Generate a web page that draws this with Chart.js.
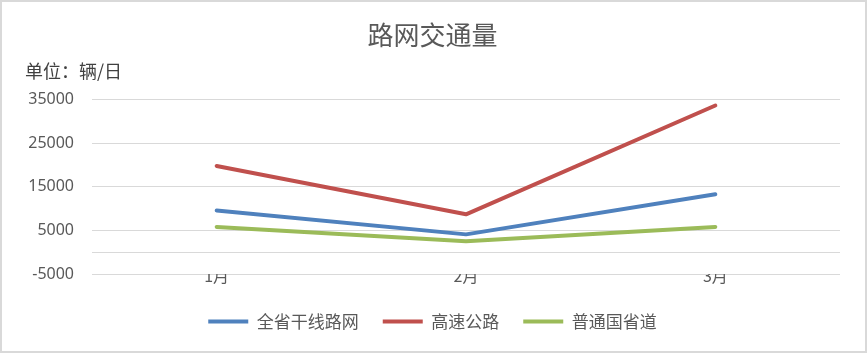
<!DOCTYPE html>
<html>
<head>
<meta charset="utf-8">
<script src="https://cdn.jsdelivr.net/npm/chart.js@4/dist/chart.umd.min.js"></script>
<style>
  html, body { margin: 0; padding: 0; background: #fff; }
  #wrap { width: 867px; height: 353px; position: relative; }
</style>
</head>
<body>
<div id="wrap"><canvas id="traffic"></canvas></div>
<script>
const months = ['1月', '2月', '3月'];
const trunkNetwork = [9600, 4100, 13300];
const expressway = [19800, 8700, 33700];
const nationalProvincial = [5800, 2500, 5800];
const yTicks = [-5000, 5000, 15000, 25000, 35000];

const cjk = '"Noto Sans CJK SC", "Noto Sans", sans-serif';
const gridColor = '#d9d9d9';

// outer frame like the spreadsheet chart border
const frame = {
    id: 'frame',
    afterDraw(chart) {
        const c = chart.ctx;
        c.save();
        c.strokeStyle = gridColor;
        c.lineWidth = 2;
        c.strokeRect(1, 1, chart.width - 2, chart.height - 2);
        c.restore();
    }
};

const ctx = document.getElementById('traffic').getContext('2d');

new Chart(ctx, {
    type: 'line',
    data: {
        labels: months,
        datasets: [
            { label: '全省干线路网', data: trunkNetwork, borderColor: '#4f81bd', backgroundColor: '#4f81bd', borderWidth: 4 },
            { label: '高速公路', data: expressway, borderColor: '#c0504d', backgroundColor: '#c0504d', borderWidth: 4 },
            { label: '普通国省道', data: nationalProvincial, borderColor: '#9bbb59', backgroundColor: '#9bbb59', borderWidth: 4 }
        ]
    },
    options: {
        responsive: true,
        maintainAspectRatio: false,
        animation: false,
        layout: { padding: { left: 25, right: 27, bottom: 13 } },
        elements: {
            line: { tension: 0, borderCapStyle: 'round', borderJoinStyle: 'round' },
            point: { radius: 0, hoverRadius: 0 }
        },
        plugins: {
            title: {
                display: true,
                text: '路网交通量',
                color: '#595959',
                font: { family: cjk, size: 26, weight: 'normal' },
                padding: { top: 20, bottom: 0 }
            },
            subtitle: {
                display: true,
                text: '单位：辆/日',
                align: 'start',
                color: '#404040',
                font: { family: cjk, size: 18, weight: 'normal' },
                padding: { top: 9, bottom: 18 }
            },
            legend: {
                position: 'bottom',
                labels: {
                    usePointStyle: true,
                    pointStyle: 'line',
                    pointStyleWidth: 40,
                    color: '#595959',
                    padding: 24,
                    font: { family: cjk, size: 17 }
                }
            },
            tooltip: { enabled: false }
        },
        scales: {
            x: {
                offset: true,
                grid: { display: false, drawTicks: false },
                border: { display: false },
                ticks: {
                    color: '#595959',
                    padding: -8,
                    font: { family: cjk, size: 16 }
                },
                afterFit(scale) { scale.height = 15; }
            },
            y: {
                min: yTicks[0],
                max: yTicks[yTicks.length - 1],
                grid: { color: gridColor, lineWidth: 1, drawTicks: false },
                border: { display: false },
                ticks: {
                    color: '#595959',
                    padding: 18,
                    font: { family: '"Noto Sans", sans-serif', size: 16 },
                    callback: (v) => (yTicks.includes(v) ? String(v) : '')
                },
                afterBuildTicks(scale) {
                    // value ticks plus the zero line where the category axis crosses
                    const vals = yTicks.concat([0]).sort((a, b) => a - b);
                    scale.ticks = vals.map(v => ({ value: v }));
                },
                afterFit(scale) { scale.width = 67; }
            }
        }
    },
    plugins: [frame]
});
</script>
</body>
</html>
